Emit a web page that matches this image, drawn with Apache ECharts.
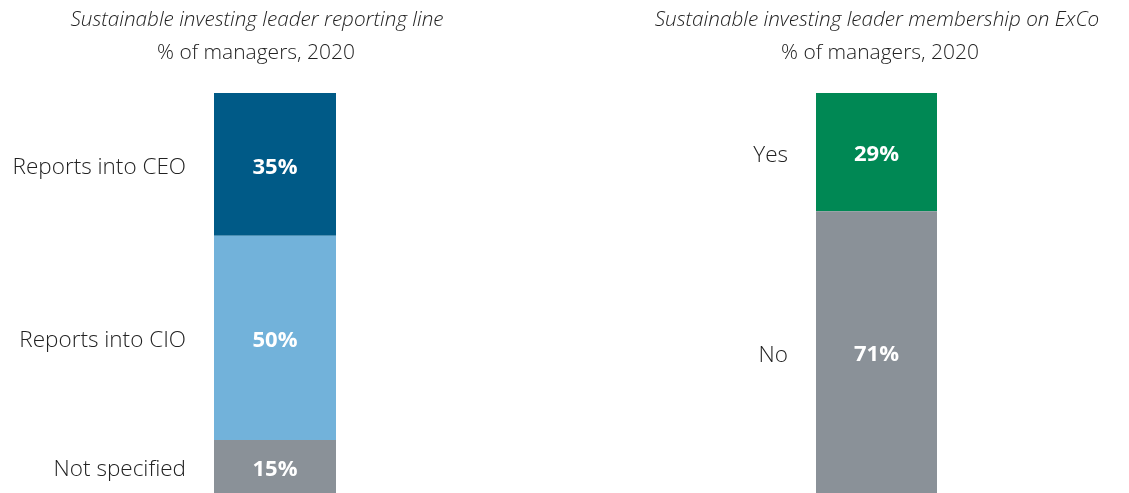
<!DOCTYPE html>
<html>
<head>
<meta charset="utf-8">
<script src="https://cdn.jsdelivr.net/npm/echarts@6/dist/echarts.min.js"></script>
<style>
html,body{margin:0;padding:0;background:#fff;}
#chart{width:1129px;height:493px;}
</style>
</head>
<body>
<div id="chart"></div>
<script>
// Data
const leftTitle = 'Sustainable investing leader reporting line';
const rightTitle = 'Sustainable investing leader membership on ExCo';
const subTitle = '% of managers, 2020';
const leftCategories = ['Reports into CEO', 'Reports into CIO', 'Not specified'];
const leftValues = [35, 50, 15];
const leftColors = ['#005A87', '#72B2DA', '#8A9198'];
const rightCategories = ['Yes', 'No'];
const rightValues = [29, 71];
const rightColors = ['#008854', '#8A9198'];

const FONT = '"Open Sans", "Noto Sans", sans-serif';
const chart = echarts.init(document.getElementById('chart'));

function buildSeries(cats, vals, colors, idx) {
  const s = [];
  cats.forEach((c, i) => {
    s.push({
      type: 'bar', xAxisIndex: idx, yAxisIndex: idx, stack: 'v' + idx,
      data: [vals[i]], barWidth: '100%', silent: true, clip: true,
      itemStyle: { color: colors[i] },
      label: {
        show: true, position: 'inside', formatter: vals[i] + '%', offset: [0, 3],
        color: '#fff', fontFamily: FONT, fontWeight: 700, fontSize: 22
      }
    });
  });
  cats.forEach((c, i) => {
    s.push({
      type: 'bar', xAxisIndex: idx, yAxisIndex: idx, stack: 'c' + idx,
      barGap: '-100%', data: [vals[i]], barWidth: '100%', silent: true, clip: true,
      itemStyle: { color: 'rgba(0,0,0,0)' },
      label: {
        show: true, position: 'left', distance: 28, formatter: c, offset: [0, 3],
        color: '#222', fontFamily: FONT, fontWeight: 300, fontSize: 22.5
      }
    });
  });
  return s;
}

const grids = [
  { left: 214, width: 122, top: 93, bottom: 0 },
  { left: 816, width: 121, top: 93, bottom: 0 }
];

chart.setOption({
  animation: false,
  grid: grids,
  xAxis: [0, 1].map(i => ({ type: 'category', gridIndex: i, data: [''], show: false })),
  // bars run past the bottom edge of the picture: the visible part covers 0..98
  yAxis: [0, 1].map(i => ({ type: 'value', gridIndex: i, min: 0, max: 98, inverse: true, show: false })),
  graphic: [
    { type: 'text', x: 257, y: 20, style: { text: leftTitle, align: 'center', verticalAlign: 'middle', font: 'italic 300 20.7px ' + FONT, fill: '#222' } },
    { type: 'text', x: 256, y: 53, style: { text: subTitle, align: 'center', verticalAlign: 'middle', font: '300 21px ' + FONT, fill: '#222' } },
    { type: 'text', x: 877, y: 20, style: { text: rightTitle, align: 'center', verticalAlign: 'middle', font: 'italic 300 20.7px ' + FONT, fill: '#222' } },
    { type: 'text', x: 880, y: 53, style: { text: subTitle, align: 'center', verticalAlign: 'middle', font: '300 21px ' + FONT, fill: '#222' } }
  ],
  series: buildSeries(leftCategories, leftValues, leftColors, 0)
    .concat(buildSeries(rightCategories, rightValues, rightColors, 1))
});
</script>
</body>
</html>
